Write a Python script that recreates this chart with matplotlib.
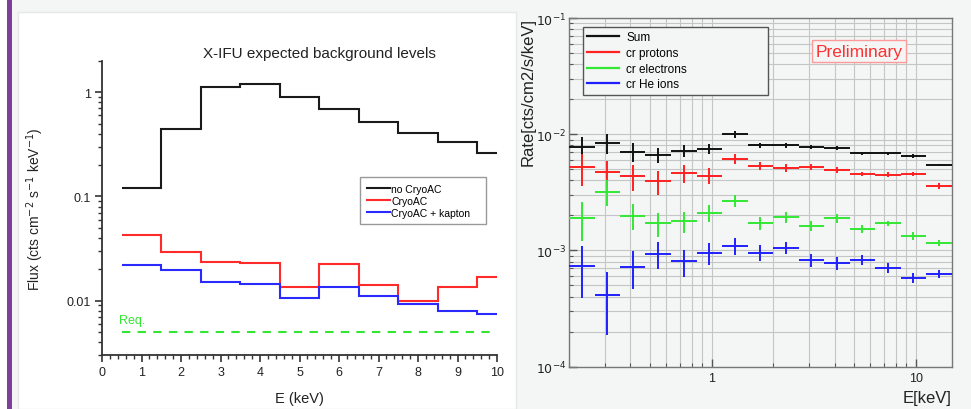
import matplotlib
matplotlib.use("Agg")
import numpy as np
import matplotlib.pyplot as plt
from matplotlib.lines import Line2D
from matplotlib.patches import Rectangle
from matplotlib.ticker import FixedLocator, FixedFormatter, LogLocator, NullFormatter

plt.rcParams['font.family'] = ['Liberation Sans', 'DejaVu Sans']

# ---- left panel: X-IFU expected background levels ----
bordes_E = [0.5, 1.5, 2.5, 3.5, 4.5, 5.5, 6.5, 7.5, 8.5, 9.5, 10.0]
flux_sin = [0.12, 0.44, 1.13, 1.19, 0.91, 0.69, 0.52, 0.41, 0.33, 0.26]
flux_cryo = [0.043, 0.029, 0.0234, 0.0229, 0.0135, 0.0223, 0.014, 0.0099, 0.0135, 0.017]
flux_kapton = [0.0219, 0.0197, 0.0151, 0.0143, 0.0106, 0.0135, 0.011, 0.0093, 0.0079, 0.0074]
requisito = 0.005
etiquetas_izq = ["no CryoAC", "CryoAC", "CryoAC + kapton"]

# ---- right panel: simulated rates ----
bin_edges = [0.2, 0.267, 0.356, 0.474, 0.632, 0.843, 1.125, 1.5, 2.0,
             2.667, 3.557, 4.743, 6.325, 8.434, 11.25, 15.0]
rate_sum = [0.00782, 0.00835, 0.0071, 0.00667, 0.00723, 0.00746, 0.00997, 0.00807,
            0.00807, 0.0078, 0.00757, 0.00685, 0.00685, 0.0065, 0.00547]
err_sum = [0.0016, 0.0016, 0.0013, 0.0010, 0.0009, 0.0007, 0.0006, 0.0004,
           0.0004, 0.0003, 0.0003, 0.0002, 0.0002, 0.0002, 0.0001]
rate_prot = [0.00519, 0.0047, 0.00434, 0.00393, 0.00464, 0.0044, 0.00612, 0.00537,
             0.00513, 0.00526, 0.00496, 0.00455, 0.00449, 0.00455, 0.00361]
err_prot = [0.0016, 0.0012, 0.0011, 0.0009, 0.0008, 0.0007, 0.0006, 0.0004,
            0.0004, 0.0003, 0.0003, 0.0002, 0.0002, 0.0002, 0.0002]
rate_elec = [0.0019, 0.00321, 0.00199, 0.00171, 0.00178, 0.0021, 0.00268, 0.00171,
             0.00193, 0.00163, 0.00189, 0.00153, 0.00171, 0.00134, 0.00117]
err_elec = [0.0007, 0.0008, 0.0005, 0.0004, 0.00036, 0.00034, 0.0003, 0.00022,
            0.0002, 0.00015, 0.00015, 0.00012, 0.0001, 0.0001, 0.00007]
rate_he = [0.00074, 0.000417, 0.000726, 0.000933, 0.000806, 0.00095, 0.00109, 0.00096,
           0.00106, 0.00083, 0.00078, 0.00083, 0.00071, 0.000583, 0.000628]
err_he = [0.00035, 0.00023, 0.00026, 0.00024, 0.00021, 0.0002, 0.00018, 0.00015,
          0.00013, 0.00011, 0.0001, 0.00008, 0.00007, 0.00006, 0.00005]
etiquetas_der = ["Sum", "cr protons", "cr electrons", "cr He ions"]

fondo = '#f4f5f5'
fig = plt.figure(figsize=(9.71, 4.10), dpi=100, facecolor=fondo)

# tarjeta blanca y barra morada (detras de los ejes)
fig.patches.append(Rectangle((0, 0), 7 / 971, 1, transform=fig.transFigure,
                             facecolor='white', edgecolor='none', zorder=-10))
fig.patches.append(Rectangle((7 / 971, 0), 4.5 / 971, 1, transform=fig.transFigure,
                             facecolor='#7e3f98', edgecolor='none', zorder=-10))
fig.patches.append(Rectangle((18 / 971, 0), (516 - 18) / 971, 1 - 13 / 410,
                             transform=fig.transFigure, facecolor='white',
                             edgecolor='#e6e8e8', lw=1, zorder=-10))

# ---------------- left ----------------
ax1 = fig.add_axes([102 / 971, 1 - 356 / 410, 395 / 971, 294 / 410])
ax1.set_facecolor('white')
colores_izq = ['#1a1a1a', '#ff2a2a', '#2a2aff']
for vals, c in zip([flux_sin, flux_cryo, flux_kapton], colores_izq):
    ax1.stairs(vals, bordes_E, baseline=None, color=c, lw=1.5)
ax1.plot([bordes_E[0], bordes_E[-1]], [requisito, requisito], color='#33e633',
         lw=1.5, ls=(0, (4, 3.5)))
ax1.text(0.42, 0.0065, "Req.", color='#33e633', fontsize=9, va='center', ha='left')

ax1.set_yscale('log')
ax1.set_xlim(0, 10)
ax1.set_ylim(0.003, 2.0)
ax1.set_xticks(range(0, 11))
ax1.set_xticks(np.arange(0, 10.01, 0.2), minor=True)
ax1.yaxis.set_major_locator(FixedLocator([0.01, 0.1, 1]))
ax1.yaxis.set_major_formatter(FixedFormatter(["0.01", "0.1", "1"]))
ax1.yaxis.set_minor_locator(LogLocator(base=10, subs=np.arange(2, 10)))
ax1.yaxis.set_minor_formatter(NullFormatter())
for s in ['top', 'right']:
    ax1.spines[s].set_visible(False)
for s in ['left', 'bottom']:
    ax1.spines[s].set_color('#333333')
    ax1.spines[s].set_linewidth(1.3)
ax1.tick_params(which='major', direction='out', length=5, width=1.2, color='#333333',
                labelsize=9, labelcolor='#222222', pad=3)
ax1.tick_params(which='minor', direction='out', length=3, width=1.0, color='#333333')
ax1.set_xlabel("E (keV)", fontsize=10.5, color='#222222', labelpad=9)
ax1.set_ylabel("Flux (cts cm$^{-2}$ s$^{-1}$ keV$^{-1}$)", fontsize=10,
               color='#222222', labelpad=15)
fig.text(319 / 971, 1 - 54 / 410, "X-IFU expected background levels",
         ha='center', va='center', fontsize=11, color='#222222')

h_izq = [Line2D([], [], color=c, lw=1.5) for c in colores_izq]
leg1 = ax1.legend(h_izq, etiquetas_izq, loc='upper left', mode='expand',
                  bbox_to_anchor=(360 / 971, 1 - 221 / 410, 126 / 971, 43 / 410),
                  bbox_transform=fig.transFigure, fontsize=7.5, frameon=True,
                  fancybox=False, edgecolor='#999999', framealpha=1,
                  handlelength=2.2, handletextpad=0.15, labelspacing=0.18,
                  borderpad=0.65, borderaxespad=0)
leg1.get_frame().set_linewidth(1.0)

# ---------------- right ----------------
ax2 = fig.add_axes([569 / 971, 1 - 367.7 / 410, 382.7 / 971, 348.7 / 410])
ax2.set_facecolor(fondo)
ax2.set_xscale('log')
ax2.set_yscale('log')
ax2.set_xlim(0.2, 15)
ax2.set_ylim(1e-4, 1e-1)

edges = np.array(bin_edges)
centros = np.sqrt(edges[:-1] * edges[1:])
xerr = [centros - edges[:-1], edges[1:] - centros]
colores_der = ['#111111', '#ff2020', '#33e833', '#2020ff']
series = [(rate_sum, err_sum), (rate_prot, err_prot), (rate_elec, err_elec), (rate_he, err_he)]
for (vals, errs), c in zip(series, colores_der):
    ax2.errorbar(centros, vals, xerr=xerr, yerr=errs, fmt='none', ecolor=c,
                 elinewidth=1.4, capsize=0, zorder=3)

ax2.xaxis.set_major_locator(FixedLocator([1, 10]))
ax2.xaxis.set_major_formatter(FixedFormatter(["1", "10"]))
ax2.xaxis.set_minor_locator(LogLocator(base=10, subs=np.arange(2, 10)))
ax2.xaxis.set_minor_formatter(NullFormatter())
ax2.yaxis.set_major_locator(FixedLocator([1e-4, 1e-3, 1e-2, 1e-1]))
ax2.yaxis.set_major_formatter(FixedFormatter(["$10^{-4}$", "$10^{-3}$", "$10^{-2}$", "$10^{-1}$"]))
ax2.yaxis.set_minor_locator(LogLocator(base=10, subs=np.arange(2, 10)))
ax2.yaxis.set_minor_formatter(NullFormatter())
ax2.grid(True, which='both', color='#c4c6c6', lw=0.8, zorder=0)
ax2.set_axisbelow(True)
for s in ax2.spines.values():
    s.set_color('#777777')
    s.set_linewidth(1.0)
ax2.tick_params(which='major', direction='in', length=6, width=1.0, color='#555555',
                labelsize=9, labelcolor='#222222')
ax2.tick_params(which='minor', direction='in', length=3, width=0.8, color='#555555')
ax2.tick_params(axis='x', which='major', pad=4)
ax2.tick_params(axis='y', which='major', pad=2)

fig.text(528 / 971, 1 - 18 / 410, "Rate[cts/cm2/s/keV]", rotation=90, ha='center',
         va='top', fontsize=12, color='#222222')
fig.text(951 / 971, 1 - 399 / 410, "E[keV]", ha='right', va='center',
         fontsize=12, color='#222222')

h_der = [Line2D([], [], color=c, lw=1.6) for c in colores_der]
leg2 = ax2.legend(h_der, etiquetas_der, loc='upper left', mode='expand',
                  bbox_to_anchor=(583 / 971, 1 - 93 / 410, 185 / 971, 65 / 410),
                  bbox_transform=fig.transFigure, fontsize=8.5, frameon=True,
                  fancybox=False, edgecolor='#555555', facecolor=fondo,
                  framealpha=1, handlelength=2.7, handletextpad=0.6,
                  labelspacing=0.32, borderpad=0.35, borderaxespad=0)
leg2.get_frame().set_linewidth(1.0)

ax2.text(859 / 971, 1 - 52 / 410, "Preliminary", transform=fig.transFigure,
         ha='center', va='center', fontsize=12.5, color='#ff3030',
         bbox=dict(boxstyle='square,pad=0.22', facecolor=fondo,
                   edgecolor='#ff9a9a', lw=1.0))

fig.savefig("out.png", dpi=100, facecolor=fondo)
